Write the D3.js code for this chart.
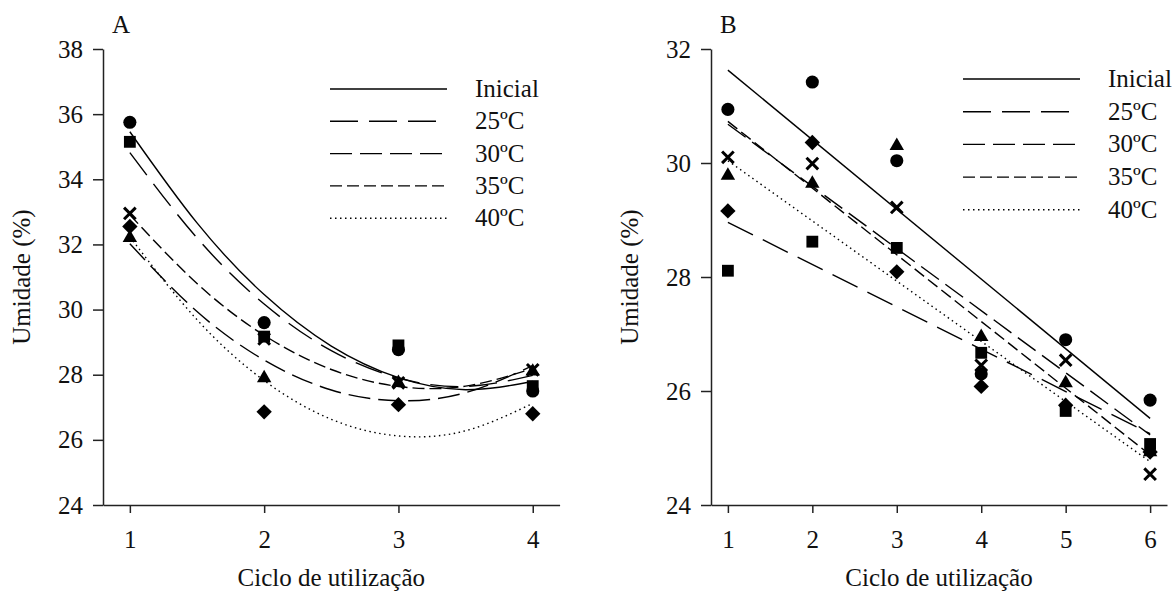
<!DOCTYPE html>
<html>
<head>
<meta charset="utf-8">
<script src="https://cdn.jsdelivr.net/npm/d3@7"></script>
<style>
  body { margin: 0; background: #fff; }
  svg text { font-family: "Liberation Serif", "Times New Roman", Tinos, "DejaVu Serif", serif; fill: #111; }
</style>
</head>
<body>
<div id="chart"></div>
<script>
// series names, same order in both panels
var seriesNames = ["Inicial", "25ºC", "30ºC", "35ºC", "40ºC"];

// Panel A - measured points
var cyclesA = [1, 2, 3, 4];
var aInicial = [35.75, 29.60, 28.77, 27.50];
var a25 = [35.15, 29.17, 28.90, 27.65];
var a30 = [32.20, 27.90, 27.75, 28.10];
var a35 = [32.95, 29.10, 27.75, 28.15];
var a40 = [32.55, 26.86, 27.08, 26.80];

// Panel A - fitted curves, read at half cycles
var fitCyclesA = [1, 1.5, 2, 2.5, 3, 3.5, 4];
var fitAInicial = [35.46, 32.66, 30.46, 28.88, 27.91, 27.54, 27.79];
var fitA25 = [34.82, 32.20, 30.17, 28.74, 27.90, 27.64, 27.98];
var fitA30 = [32.02, 29.94, 28.45, 27.53, 27.20, 27.45, 28.28];
var fitA35 = [32.91, 30.80, 29.21, 28.16, 27.64, 27.65, 28.19];
var fitA40 = [32.23, 29.69, 27.82, 26.63, 26.12, 26.28, 27.12];

// Panel B - measured points
var cyclesB = [1, 2, 3, 4, 5, 6];
var bInicial = [30.94, 31.42, 30.04, 26.30, 26.90, 25.84];
var b25 = [28.11, 28.62, 28.51, 26.67, 25.65, 25.07];
var b30 = [29.78, 29.64, 30.30, 26.95, 26.14, 24.93];
var b35 = [30.10, 29.99, 29.22, 26.45, 26.54, 24.54];
var b40 = [29.16, 30.36, 28.09, 26.08, 25.75, 24.93];

// Panel B - fitted straight lines, ends at cycle 1 and 6
var fitCyclesB = [1, 6];
var fitBInicial = [31.63, 25.52];
var fitB25 = [28.96, 25.25];
var fitB30 = [30.68, 25.23];
var fitB35 = [30.73, 24.88];
var fitB40 = [30.04, 24.76];

var yTicksA = [24, 26, 28, 30, 32, 34, 36, 38];
var yTicksB = [24, 26, 28, 30, 32];

var w = 1174, h = 600;
var fontSize = 25;
var serif = "'Liberation Serif', 'Times New Roman', Tinos, 'DejaVu Serif', serif";
var dashes = [null, "28,11", "22,8", "12,5", "1.5,3.5"];
var symbols = ["circle", "square", "triangle", "times", "diamond"];

var svg = d3.select("#chart").append("svg")
  .attr("width", w)
  .attr("height", h);

function drawSymbol(g, kind, cx, cy) {
  if (kind == "times") {
    g.append("path")
      .attr("d", d3.symbol().type(d3.symbolTimes).size(90)())
      .attr("transform", "translate(" + cx + "," + cy + ")")
      .attr("fill", "none")
      .attr("stroke", "#000")
      .attr("stroke-width", 3);
  } else if (kind == "diamond") {
    g.append("path")
      .attr("d", d3.symbol().type(d3.symbolSquare).size(118)())
      .attr("transform", "translate(" + cx + "," + cy + ") rotate(45)")
      .attr("fill", "#000");
  } else {
    var t = { circle: d3.symbolCircle, square: d3.symbolSquare, triangle: d3.symbolTriangle }[kind];
    var s = { circle: 135, square: 140, triangle: 90 }[kind];
    g.append("path")
      .attr("d", d3.symbol().type(t).size(s)())
      .attr("transform", "translate(" + cx + "," + cy + ")")
      .attr("fill", "#000");
  }
}

function drawPanel(p) {
  var g = svg.append("g");
  var x = d3.scaleLinear().domain(p.xDomain).range([p.left, p.right]);
  var y = d3.scaleLinear().domain(p.yDomain).range([505, 49]);

  var yAxis = g.append("g")
    .attr("transform", "translate(" + p.left + ",0)")
    .call(d3.axisLeft(y).tickValues(p.yTicks).tickFormat(d3.format("d"))
      .tickSize(10).tickSizeOuter(0).tickPadding(10));
  var xAxis = g.append("g")
    .attr("transform", "translate(0,505)")
    .call(d3.axisBottom(x).tickValues(p.cycles).tickFormat(d3.format("d"))
      .tickSize(8).tickSizeOuter(0).tickPadding(17));

  [yAxis, xAxis].forEach(function(a) {
    a.attr("font-family", serif).attr("font-size", fontSize);
    a.selectAll("path, line").attr("stroke", "#222").attr("stroke-width", 1.5);
    a.selectAll("text").attr("fill", "#111");
  });

  // fitted lines
  var line = d3.line()
    .x(function(d) { return x(d[0]); })
    .y(function(d) { return y(d[1]); })
    .curve(d3.curveNatural);
  p.fits.forEach(function(f, i) {
    g.append("path")
      .datum(p.fitCycles.map(function(c, k) { return [c, f[k]]; }))
      .attr("d", line)
      .attr("fill", "none")
      .attr("stroke", "#000")
      .attr("stroke-width", 1.4)
      .attr("stroke-dasharray", dashes[i]);
  });

  // points
  p.points.forEach(function(s, i) {
    s.forEach(function(v, k) {
      drawSymbol(g, symbols[i], x(p.cycles[k]), y(v));
    });
  });

  // legend
  seriesNames.forEach(function(name, i) {
    var ly = p.legendTop + i * p.legendStep;
    g.append("line")
      .attr("x1", p.legendX).attr("x2", p.legendX + 117)
      .attr("y1", ly).attr("y2", ly)
      .attr("stroke", "#000").attr("stroke-width", 1.4)
      .attr("stroke-dasharray", dashes[i]);
    g.append("text")
      .text(name)
      .attr("x", p.legendX + 145)
      .attr("y", ly + 8)
      .attr("font-size", fontSize);
  });

  g.append("text").text(p.letter)
    .attr("x", p.left + 9).attr("y", 33)
    .attr("font-size", fontSize);

  g.append("text").text("Ciclo de utilização")
    .attr("x", (p.left + p.right) / 2).attr("y", 586)
    .attr("text-anchor", "middle")
    .attr("font-size", fontSize);

  g.append("text").text("Umidade (%)")
    .attr("transform", "translate(" + (p.left - 73) + ",277) rotate(-90)")
    .attr("text-anchor", "middle")
    .attr("font-size", fontSize);
}

drawPanel({
  letter: "A", left: 103, right: 559.6, xDomain: [0.8, 4.2], yDomain: [24, 38],
  yTicks: yTicksA, cycles: cyclesA, fitCycles: fitCyclesA,
  points: [aInicial, a25, a30, a35, a40],
  fits: [fitAInicial, fitA25, fitA30, fitA35, fitA40],
  legendX: 330, legendTop: 89, legendStep: 32.3
});

drawPanel({
  letter: "B", left: 711, right: 1167, xDomain: [0.8, 6.2], yDomain: [24, 32],
  yTicks: yTicksB, cycles: cyclesB, fitCycles: fitCyclesB,
  points: [bInicial, b25, b30, b35, b40],
  fits: [fitBInicial, fitB25, fitB30, fitB35, fitB40],
  legendX: 963, legendTop: 79, legendStep: 32.7
});
</script>
</body>
</html>
